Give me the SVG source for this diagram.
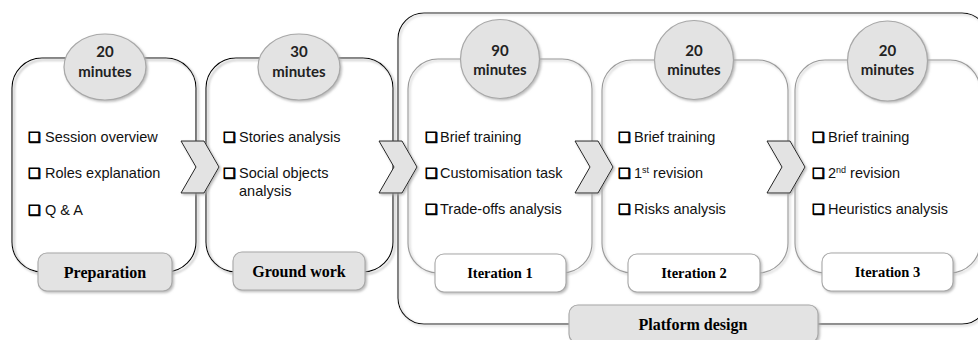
<svg xmlns="http://www.w3.org/2000/svg" width="978" height="340" viewBox="0 0 978 340">
<defs>
<filter id="sh" x="-10%" y="-10%" width="130%" height="130%">
<feDropShadow dx="2" dy="2" stdDeviation="0.8" flood-color="#999" flood-opacity="0.9"/>
</filter>
<filter id="sh2" x="-10%" y="-10%" width="130%" height="130%">
<feDropShadow dx="1.5" dy="1.5" stdDeviation="0.8" flood-color="#aaa" flood-opacity="0.8"/>
</filter>
</defs>
<style>
.outer{fill:none;stroke:#000;stroke-width:1.1}
.inner{fill:none;stroke:#9a9a9a;stroke-width:1.1}
.circ{fill:#e3e3e3;stroke:#a8a8a8;stroke-width:1.2}
.lblg{fill:#e3e3e3;stroke:#a8a8a8;stroke-width:1.1}
.lblw{fill:#fff;stroke:#a8a8a8;stroke-width:1.1}
.chev{fill:#e3e3e3;stroke:#222;stroke-width:1}
.mins{font-family:Lato,"Open Sans",sans-serif;font-weight:bold;font-size:15px;fill:#222;text-anchor:middle}
.item{font-family:"Liberation Sans",Arial,sans-serif;font-size:14.5px;fill:#111}
.sq{font-family:"DejaVu Sans",sans-serif;font-size:14px;font-weight:bold;fill:#000;stroke:#000;stroke-width:0.9}
.sup{font-size:9px}
.lbl{font-family:"Liberation Serif","Times New Roman",serif;font-weight:bold;font-size:16px;fill:#000;text-anchor:middle}
.lbls{font-family:"Liberation Serif","Times New Roman",serif;font-weight:bold;font-size:14.5px;fill:#000;text-anchor:middle}
</style>

<g id="platform-design">
<rect class="outer" x="398" y="13" width="590" height="311" rx="26" filter="url(#sh2)"/>
<rect class="lblg" x="569" y="305" width="249" height="38" rx="9" filter="url(#sh2)"/>
<text class="lbl" x="693" y="330">Platform design</text>
</g>

<g id="preparation">
<rect class="outer" x="12" y="58" width="184" height="214" rx="30" filter="url(#sh)"/>
<ellipse class="circ" cx="105" cy="67" rx="41" ry="33" filter="url(#sh2)"/>
<text class="mins" x="105" y="57">20</text>
<text class="mins" x="105" y="77">minutes</text>
<text class="item" x="28" y="142"><tspan class="sq">❑</tspan><tspan x="45">Session overview</tspan></text>
<text class="item" x="28" y="178"><tspan class="sq">❑</tspan><tspan x="45">Roles explanation</tspan></text>
<text class="item" x="28" y="215"><tspan class="sq">❑</tspan><tspan x="45">Q &amp; A</tspan></text>
<rect class="lblg" x="38" y="253" width="134" height="38" rx="9" filter="url(#sh2)"/>
<text class="lbl" x="105" y="278">Preparation</text>
</g>

<g id="ground-work">
<rect class="outer" x="206" y="58" width="187" height="214" rx="30" filter="url(#sh)"/>
<ellipse class="circ" cx="299" cy="67" rx="41" ry="33" filter="url(#sh2)"/>
<text class="mins" x="299" y="57">30</text>
<text class="mins" x="299" y="77">minutes</text>
<text class="item" x="223" y="142"><tspan class="sq">❑</tspan><tspan x="239">Stories analysis</tspan></text>
<text class="item" x="223" y="178"><tspan class="sq">❑</tspan><tspan x="239">Social objects</tspan></text>
<text class="item" x="239" y="196">analysis</text>
<rect class="lblg" x="233" y="252" width="132" height="38" rx="9" filter="url(#sh2)"/>
<text class="lbl" x="299" y="277">Ground work</text>
</g>

<g id="iteration-1">
<rect class="inner" x="408" y="59" width="184" height="214" rx="30" filter="url(#sh2)"/>
<circle class="circ" cx="500" cy="59" r="39.5" filter="url(#sh2)"/>
<text class="mins" x="500" y="56">90</text>
<text class="mins" x="500" y="75">minutes</text>
<text class="item" x="425" y="142"><tspan class="sq">❑</tspan><tspan x="440">Brief training</tspan></text>
<text class="item" x="425" y="178"><tspan class="sq">❑</tspan><tspan x="440">Customisation task</tspan></text>
<text class="item" x="425" y="214"><tspan class="sq">❑</tspan><tspan x="440">Trade-offs analysis</tspan></text>
<rect class="lblw" x="435" y="254" width="131" height="38" rx="9" filter="url(#sh2)"/>
<text class="lbls" x="500" y="278">Iteration 1</text>
</g>

<g id="iteration-2">
<rect class="inner" x="602" y="60" width="186" height="213" rx="30" filter="url(#sh2)"/>
<circle class="circ" cx="694" cy="60" r="39.5" filter="url(#sh2)"/>
<text class="mins" x="694" y="56">20</text>
<text class="mins" x="694" y="75">minutes</text>
<text class="item" x="618" y="142"><tspan class="sq">❑</tspan><tspan x="634">Brief training</tspan></text>
<text class="item" x="618" y="178"><tspan class="sq">❑</tspan><tspan x="634">1</tspan><tspan class="sup" dy="-5">st</tspan><tspan dy="5"> revision</tspan></text>
<text class="item" x="618" y="214"><tspan class="sq">❑</tspan><tspan x="634">Risks analysis</tspan></text>
<rect class="lblw" x="628" y="254" width="132" height="38" rx="9" filter="url(#sh2)"/>
<text class="lbls" x="694" y="278">Iteration 2</text>
</g>

<g id="iteration-3">
<rect class="inner" x="795" y="60" width="185" height="213" rx="30" filter="url(#sh2)"/>
<circle class="circ" cx="887.5" cy="61" r="40" filter="url(#sh2)"/>
<text class="mins" x="887.5" y="56">20</text>
<text class="mins" x="887.5" y="75">minutes</text>
<text class="item" x="812" y="142"><tspan class="sq">❑</tspan><tspan x="828">Brief training</tspan></text>
<text class="item" x="812" y="178"><tspan class="sq">❑</tspan><tspan x="828">2</tspan><tspan class="sup" dy="-5">nd</tspan><tspan dy="5"> revision</tspan></text>
<text class="item" x="812" y="214"><tspan class="sq">❑</tspan><tspan x="828">Heuristics analysis</tspan></text>
<rect class="lblw" x="822" y="253" width="131" height="38" rx="9" filter="url(#sh2)"/>
<text class="lbls" x="887.5" y="277">Iteration 3</text>
</g>

<g id="connectors">
<polygon class="chev" points="181,141 204,141 219,167 204,193 181,193 196,167" filter="url(#sh2)"/>
<polygon class="chev" points="379,141 402,141 417,167 402,193 379,193 394,167" filter="url(#sh2)"/>
<polygon class="chev" points="575,141 598,141 613,167 598,193 575,193 590,167" filter="url(#sh2)"/>
<polygon class="chev" points="767,141 790,141 805,167 790,193 767,193 782,167" filter="url(#sh2)"/>
</g>
</svg>
